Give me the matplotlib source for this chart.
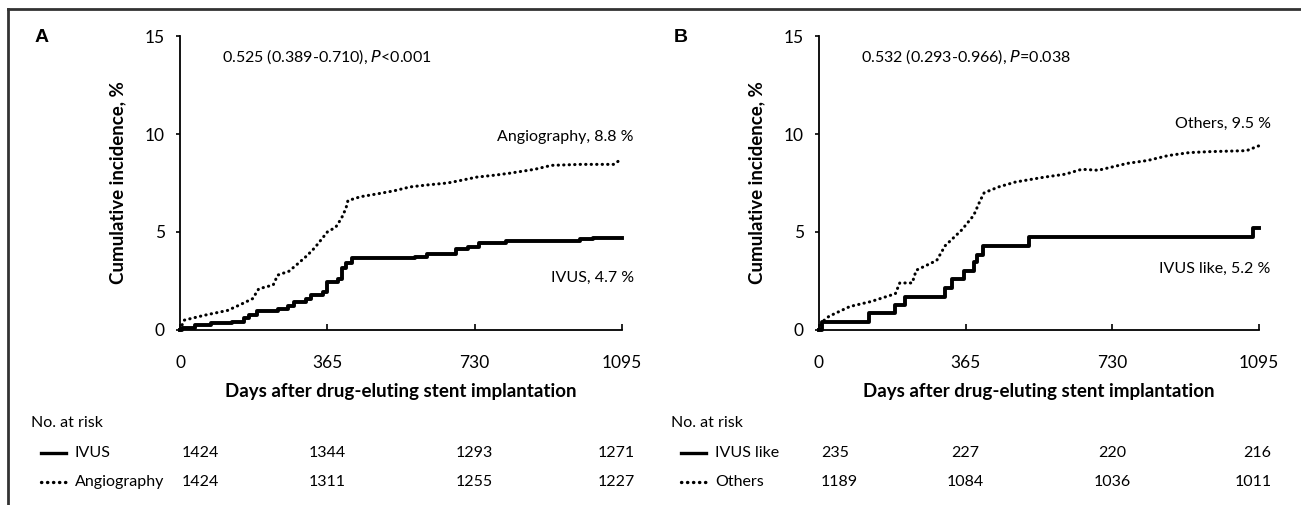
import matplotlib
matplotlib.use("Agg")
import matplotlib.pyplot as plt
from matplotlib.lines import Line2D
from matplotlib.transforms import blended_transform_factory

plt.rcParams['font.family'] = ['Lato', 'DejaVu Sans']

# ---- data ----
ticks_x = [0, 365, 730, 1095]

# Panel A
ivus_days = [0, 5, 36, 77, 129, 159, 170, 190, 242, 267, 283, 313, 324, 355, 365,
             391, 401, 411, 427, 519, 581, 612, 679, 684, 714, 740, 807, 992, 1023, 1095]
ivus_vals = [0, 0.1, 0.25, 0.35, 0.42, 0.6, 0.75, 0.95, 1.05, 1.2, 1.45, 1.6, 1.8, 1.95, 2.45,
             2.6, 3.15, 3.4, 3.65, 3.65, 3.75, 3.9, 3.9, 4.15, 4.25, 4.45, 4.55, 4.65, 4.7, 4.7]
angio_days = [0, 10, 60, 118, 150, 180, 195, 231, 242, 270, 293, 315, 334, 365, 386, 400,
              411, 416, 447, 490, 530, 570, 612, 663, 700, 735, 780, 817, 879, 920, 992, 1075, 1095]
angio_vals = [0, 0.5, 0.75, 1.0, 1.3, 1.6, 2.1, 2.3, 2.8, 3.0, 3.4, 3.8, 4.2, 5.0, 5.25, 5.7,
              6.2, 6.6, 6.8, 6.95, 7.1, 7.3, 7.4, 7.5, 7.65, 7.8, 7.9, 8.0, 8.2, 8.4, 8.45, 8.45, 8.75]

# Panel B
like_days = [0, 8, 124, 190, 213, 314, 330, 360, 385, 392, 407, 522, 1081, 1095]
like_vals = [0, 0.43, 0.85, 1.3, 1.7, 2.15, 2.6, 3.0, 3.45, 3.85, 4.3, 4.75, 5.2, 5.2]
oth_days = [0, 10, 25, 77, 129, 190, 201, 232, 242, 293, 314, 355, 385, 401, 411, 447, 489,
            561, 613, 654, 695, 767, 818, 869, 921, 972, 1064, 1095]
oth_vals = [0, 0.45, 0.7, 1.2, 1.45, 1.85, 2.4, 2.4, 3.05, 3.55, 4.3, 5.1, 5.85, 6.6, 7.0,
            7.3, 7.55, 7.8, 7.95, 8.2, 8.15, 8.5, 8.65, 8.9, 9.05, 9.1, 9.15, 9.4]

risk_a = {'IVUS': [1424, 1344, 1293, 1271], 'Angiography': [1424, 1311, 1255, 1227]}
risk_b = {'IVUS like': [235, 227, 220, 216], 'Others': [1189, 1084, 1036, 1011]}

W, H = 1301, 505
fig = plt.figure(figsize=(W / 100, H / 100), dpi=100)

DOTS = (0, (0.1, 1.7))


def fx(px):
    return px / W


def fy(py):
    return 1 - py / H


# frame (top and left edges only)
fig.add_artist(Line2D([fx(8), fx(W)], [fy(9), fy(9)], color='#333333', lw=2))
fig.add_artist(Line2D([fx(8), fx(8)], [fy(9), fy(H)], color='#333333', lw=2))


def panel(left_px, right_px, letter, hr_text, p_rest, solid, dotted,
          lab_solid, lab_dotted, risk, tab_x):
    ax = fig.add_axes([fx(left_px), fy(330), fx(right_px - left_px), (330 - 36) / H])
    ax.step(solid[0], solid[1], where='post', color='black', lw=2.8, clip_on=False)
    ax.plot(dotted[0], dotted[1], color='black', lw=2.2, linestyle=DOTS,
            dash_capstyle='round', clip_on=False)
    ax.set_xlim(0, 1095)
    ax.set_ylim(0, 15)
    ax.set_xticks(ticks_x)
    ax.set_yticks([0, 5, 10, 15])
    for s in ['top', 'right']:
        ax.spines[s].set_visible(False)
    for s in ['left', 'bottom']:
        ax.spines[s].set_linewidth(1.3)
    ax.tick_params(axis='x', direction='in', length=4, width=1.2, labelsize=12.5, pad=18)
    ax.tick_params(axis='y', direction='out', length=3, width=1.2, labelsize=12.5, pad=8)
    ax.set_xlabel('Days after drug-eluting stent implantation', fontsize=13.5,
                  fontweight='bold', labelpad=9)
    ax.set_ylabel('Cumulative incidence, %', fontsize=13.5, fontweight='bold', labelpad=13)

    fig.text(fx(left_px - 145), fy(37), letter, fontsize=14, fontweight='bold',
             family='Liberation Sans', va='center')
    fig.text(fx(left_px + 42), fy(57), hr_text + r'$\it{P}$' + p_rest, fontsize=11.5,
             va='center')
    # curve labels
    ax.text(1124, lab_dotted[1], lab_dotted[0], fontsize=11.5, ha='right', va='center')
    ax.text(1124, lab_solid[1], lab_solid[0], fontsize=11.5, ha='right', va='center')

    # number at risk table
    tr = blended_transform_factory(ax.transData, fig.transFigure)
    fig.text(fx(tab_x), fy(423), 'No. at risk', fontsize=11.5, va='center')
    for i, (name, vals) in enumerate(risk.items()):
        y = fy(453 + 29 * i)
        ls = '-' if i == 0 else DOTS
        fig.add_artist(Line2D([fx(tab_x + 10), fx(tab_x + 35)], [y, y], color='black',
                              lw=2.4, linestyle=ls, dash_capstyle='round'))
        fig.text(fx(tab_x + 44), y, name, fontsize=11.5, va='center')
        for j, v in enumerate(vals):
            if j == 0:
                ax.text(5, y, str(v), transform=tr, fontsize=11.5, ha='left', va='center')
            elif j == 3:
                ax.text(1126, y, str(v), transform=tr, fontsize=11.5, ha='right', va='center')
            else:
                ax.text(ticks_x[j], y, str(v), transform=tr, fontsize=11.5, ha='center',
                        va='center')
    return ax


panel(180, 622, 'A', '0.525 (0.389-0.710), ', '<0.001',
      (ivus_days, ivus_vals), (angio_days, angio_vals),
      ('IVUS, 4.7 %', 2.65), ('Angiography, 8.8 %', 9.85), risk_a, 31)
panel(819, 1259, 'B', '0.532 (0.293-0.966), ', '=0.038',
      (like_days, like_vals), (oth_days, oth_vals),
      ('IVUS like, 5.2 %', 3.1), ('Others, 9.5 %', 10.5), risk_b, 671)

fig.savefig('out.png', dpi=100)
